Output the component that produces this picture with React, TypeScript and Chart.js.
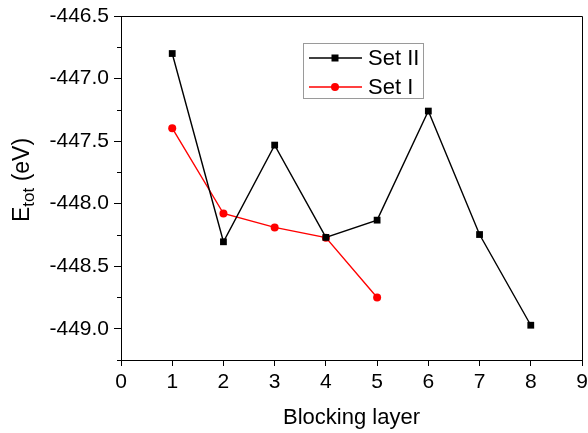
import React, { useEffect, useRef } from "react";
import { Chart, registerables } from "chart.js";

Chart.register(...registerables);

const layers = [1, 2, 3, 4, 5, 6, 7, 8];
const setII = [-446.8, -448.305, -447.532, -448.27, -448.132, -447.26, -448.247, -448.972];
const setI = [-447.397, -448.079, -448.19, -448.272, -448.75];
const yMajorTicks = [-449.0, -448.5, -448.0, -447.5, -447.0, -446.5];
const yMinorTicks = [-449.25, -448.75, -448.25, -447.75, -447.25, -446.75];
const xTicks = [0, 1, 2, 3, 4, 5, 6, 7, 8, 9];
const seriesNames = ["Set II", "Set I"];
const xTitle = "Blocking layer";

const FONT = "'Liberation Sans', Arial, Helvetica, sans-serif";

const decorPlugin = {
  id: "decor",
  afterDraw(chart: any) {
    const ctx = chart.ctx;
    const { left, right, top, bottom } = chart.chartArea;
    const ys = chart.scales.y;
    ctx.save();
    // frame top/right
    ctx.strokeStyle = "#000";
    ctx.lineWidth = 1;
    ctx.beginPath();
    ctx.moveTo(left, top + 0.5);
    ctx.lineTo(right + 0.5, top + 0.5);
    ctx.lineTo(right + 0.5, bottom);
    ctx.stroke();
    // minor y ticks
    ctx.beginPath();
    for (const v of yMinorTicks) {
      const py = Math.round(ys.getPixelForValue(v)) + 0.5;
      ctx.moveTo(left - 4, py);
      ctx.lineTo(left, py);
    }
    ctx.stroke();

    // x title
    ctx.fillStyle = "#000";
    ctx.font = `22px ${FONT}`;
    ctx.textAlign = "center";
    ctx.textBaseline = "middle";
    ctx.fillText(xTitle, (left + right) / 2, 418);

    // y title with subscript
    ctx.translate(29, 222);
    ctx.rotate(-Math.PI / 2);
    ctx.textAlign = "left";
    ctx.textBaseline = "alphabetic";
    ctx.font = `23px ${FONT}`;
    let x = 0;
    ctx.fillText("E", x, 0);
    x += ctx.measureText("E").width;
    ctx.font = `17px ${FONT}`;
    ctx.fillText("tot", x, 5);
    x += ctx.measureText("tot").width;
    ctx.font = `23px ${FONT}`;
    ctx.fillText(" (eV)", x, 0);
    ctx.restore();

    // legend
    ctx.save();
    const lx = 303, ly = 43, lw = 120, lh = 55;
    ctx.strokeStyle = "#9a9a9a";
    ctx.lineWidth = 1;
    ctx.strokeRect(lx + 0.5, ly + 0.5, lw, lh);
    const rows = [58, 87];
    chart.data.datasets.forEach((ds: any, i: number) => {
      const yy = rows[i];
      ctx.strokeStyle = ds.borderColor;
      ctx.lineWidth = 1.4;
      ctx.beginPath();
      ctx.moveTo(309, yy);
      ctx.lineTo(362, yy);
      ctx.stroke();
      ctx.fillStyle = ds.pointBackgroundColor;
      if (ds.pointStyle === "rect") {
        ctx.fillRect(335 - 3.5, yy - 3.5, 7, 7);
      } else {
        ctx.beginPath();
        ctx.arc(335, yy, 4, 0, Math.PI * 2);
        ctx.fill();
      }
      ctx.fillStyle = "#000";
      ctx.font = `22px ${FONT}`;
      ctx.textAlign = "left";
      ctx.textBaseline = "middle";
      ctx.fillText(ds.label, 368, yy + 1);
    });
    ctx.restore();
  },
};

export default function App() {
  const ref = useRef<HTMLCanvasElement>(null);
  useEffect(() => {
    if (!ref.current) return;
    const chart = new Chart(ref.current, {
      type: "line",
      data: {
        datasets: [
          {
            label: seriesNames[0],
            data: layers.map((l, i) => ({ x: l, y: setII[i] })),
            borderColor: "#000000",
            backgroundColor: "#000000",
            pointBackgroundColor: "#000000",
            pointBorderColor: "#000000",
            pointStyle: "rect",
            pointRadius: 4.8,
            pointBorderWidth: 0,
            borderWidth: 1.4,
            tension: 0,
          },
          {
            label: seriesNames[1],
            data: layers.slice(0, setI.length).map((l, i) => ({ x: l, y: setI[i] })),
            borderColor: "#ff0000",
            backgroundColor: "#ff0000",
            pointBackgroundColor: "#ff0000",
            pointBorderColor: "#ff0000",
            pointStyle: "circle",
            pointRadius: 4,
            pointBorderWidth: 0,
            borderWidth: 1.4,
            tension: 0,
          },
        ],
      },
      options: {
        animation: false,
        responsive: false,
        devicePixelRatio: 1,
        layout: { padding: { top: 16, right: 6, left: 0, bottom: 0 } },
        plugins: { legend: { display: false }, tooltip: { enabled: false } },
        scales: {
          x: {
            type: "linear",
            min: 0,
            max: 9,
            afterBuildTicks: (s: any) => {
              s.ticks = xTicks.map((v) => ({ value: v }));
            },
            afterFit: (s: any) => {
              s.height = 73;
              s.paddingRight = 0;
              s.paddingLeft = 0;
            },
            grid: { drawOnChartArea: false, tickLength: 6, color: "#000", lineWidth: 1 },
            border: { display: true, color: "#000", width: 1 },
            ticks: {
              color: "#000",
              font: { family: FONT, size: 21 },
              padding: 4,
              maxRotation: 0,
              autoSkip: false,
              callback: (v: any) => String(v),
            },
          },
          y: {
            type: "linear",
            min: -449.25,
            max: -446.5,
            afterBuildTicks: (s: any) => {
              s.ticks = yMajorTicks.map((v) => ({ value: v }));
            },
            afterFit: (s: any) => {
              s.width = 121;
              s.paddingTop = 0;
              s.paddingBottom = 0;
            },
            grid: { drawOnChartArea: false, tickLength: 7, color: "#000", lineWidth: 1 },
            border: { display: true, color: "#000", width: 1 },
            ticks: {
              color: "#000",
              font: { family: FONT, size: 21 },
              padding: 5,
              autoSkip: false,
              callback: (v: any) => Number(v).toFixed(1),
            },
          },
        },
      },
      plugins: [decorPlugin],
    });
    return () => chart.destroy();
  }, []);
  return (
    <div style={{ position: "absolute", left: 0, top: 0, width: 588, height: 433, background: "#fff" }}>
      <canvas ref={ref} width={588} height={433} style={{ width: 588, height: 433, display: "block" }} />
    </div>
  );
}
